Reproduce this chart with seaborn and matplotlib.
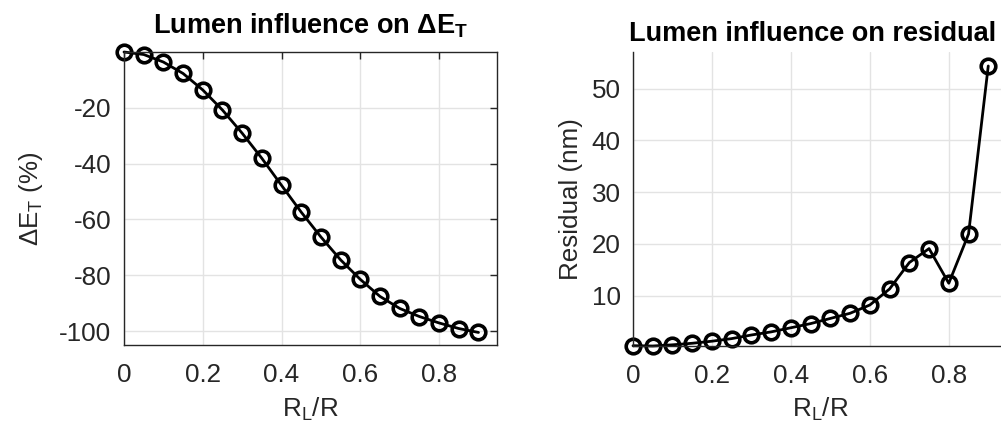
import numpy as np
import pandas as pd
import matplotlib
matplotlib.use('Agg')
import matplotlib.pyplot as plt
import seaborn as sns

# data
rl_ratio = [0.0, 0.05, 0.1, 0.15, 0.2, 0.25, 0.3, 0.35, 0.4, 0.45,
            0.5, 0.55, 0.6, 0.65, 0.7, 0.75, 0.8, 0.85, 0.9]
delta_et = [0.0, -0.9, -3.6, -7.7, -13.6, -20.8, -29.1, -38.1, -47.8, -57.4,
            -66.3, -74.5, -81.5, -87.6, -91.9, -94.8, -97.1, -99.1, -100.5]
residual = [0.33, 0.27, 0.5, 0.8, 1.2, 1.7, 2.4, 3.0, 3.8, 4.6,
            5.6, 6.6, 8.2, 11.3, 16.4, 19.1, 12.4, 21.9, 54.4]

x_ticks = [0, 0.2, 0.4, 0.6, 0.8]
x_tick_labels = ['0', '0.2', '0.4', '0.6', '0.8']
left_yticks = [-100, -80, -60, -40, -20]
right_yticks = [10, 20, 30, 40, 50]

df = pd.DataFrame({'rl': rl_ratio, 'de': delta_et, 'res': residual})

sns.set_theme(style='white')
plt.rcParams['font.family'] = ['Liberation Sans', 'DejaVu Sans']
plt.rcParams['axes.unicode_minus'] = False
plt.rcParams['mathtext.fontset'] = 'custom'
plt.rcParams['mathtext.rm'] = 'Liberation Sans'
plt.rcParams['mathtext.it'] = 'Liberation Sans'
plt.rcParams['mathtext.bf'] = 'Liberation Sans:bold'

TXT = '#262626'
GRID = '#e3e3e3'
FS = 18.7

fig = plt.figure(figsize=(10.01, 4.37), dpi=100)
ax1 = fig.add_axes([124 / 1001, 92 / 437, 373 / 1001, 293 / 437])
ax2 = fig.add_axes([633 / 1001, 91.3 / 437, 375 / 1001, 293.7 / 437])


def style_axes(ax, yticks, top_box=True):
    ax.set_xticks(x_ticks)
    ax.set_xticklabels(x_tick_labels)
    ax.set_yticks(yticks)
    ax.grid(True, color=GRID, linewidth=1.0)
    ax.set_axisbelow(True)
    ax.tick_params(direction='in', length=5, width=1.0, colors=TXT,
                   labelsize=FS, top=top_box, right=True)
    ax.tick_params(axis='x', pad=13)
    ax.tick_params(axis='y', pad=9)
    for name, sp in ax.spines.items():
        sp.set_color(TXT)
        sp.set_linewidth(1.0)
    if not top_box:
        ax.spines['top'].set_visible(False)


for ax, col in [(ax1, 'de'), (ax2, 'res')]:
    sns.lineplot(data=df, x='rl', y=col, ax=ax, color='black', linewidth=2.0,
                 marker='o', markersize=10.5, markeredgewidth=2.6,
                 markerfacecolor='none', markeredgecolor='black', clip_on=False)

ax1.set_xlim(0, 0.947)
ax1.set_ylim(-105, 0)
style_axes(ax1, left_yticks)
ax1.set_title(r'Lumen influence on $\mathbf{\Delta E_{T}}$', fontsize=19.5,
              fontweight='bold', color='black', pad=13)
ax1.set_ylabel(r'$\mathrm{\Delta E_T}$ (%)', fontsize=FS, color=TXT, labelpad=10)
ax1.set_xlabel(r'$\mathrm{R_L}$/R', fontsize=FS, color=TXT, labelpad=6)

ax2.set_xlim(0, 0.95)
ax2.set_ylim(0.33, 57.1)
style_axes(ax2, right_yticks, top_box=False)
ax2.set_title('Lumen influence on residual', fontsize=19.5, fontweight='bold',
              color='black', pad=8, x=0.48)
ax2.set_ylabel('Residual (nm)', fontsize=FS, color=TXT, labelpad=6)
ax2.set_xlabel(r'$\mathrm{R_L}$/R', fontsize=FS, color=TXT, labelpad=6)

fig.savefig('out.png', dpi=100)
